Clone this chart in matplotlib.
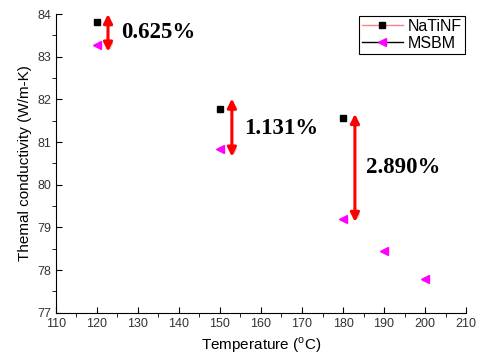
import numpy as np
import matplotlib
matplotlib.use('Agg')
import matplotlib.pyplot as plt
import matplotlib.patheffects as pe
from matplotlib.ticker import MultipleLocator
from matplotlib.lines import Line2D

# data
natinf_t = [120, 150, 180]
natinf_k = [83.82, 81.77, 81.56]
msbm_t = [120, 150, 180, 190, 200]
msbm_k = [83.28, 80.85, 79.19, 78.45, 77.79]

# difference arrows: x, y bottom, y top, label, label x, label y
arrow_x = [122.7, 152.9, 182.9]
arrow_lo = [83.12, 80.66, 79.13]
arrow_hi = [84.0, 82.02, 81.66]
pct_labels = ['0.625%', '1.131%', '2.890%']
pct_x = [125.8, 155.8, 185.6]
pct_y = [83.56, 81.33, 80.4]

plt.rcParams['font.family'] = ['Liberation Sans', 'DejaVu Sans']

fig = plt.figure(figsize=(4.78, 3.6), dpi=100)
ax = fig.add_axes([0.117, 0.131, 0.858, 0.83])

ax.plot(natinf_t, natinf_k, color='#ff8080', ls='none', marker='s', ms=5,
        mfc='black', mec='black')
ax.plot(msbm_t, msbm_k, color='black', ls='none', marker='<', ms=6,
        mfc='magenta', mec='magenta')

shadow = [pe.SimplePatchShadow(offset=(1.5, -1.5), alpha=0.2), pe.Normal()]
for x, lo, hi in zip(arrow_x, arrow_lo, arrow_hi):
    ax.annotate('', xy=(x, lo), xytext=(x, hi),
                arrowprops=dict(arrowstyle='<|-|>', color='red', lw=2.2,
                                mutation_scale=13, shrinkA=0, shrinkB=0,
                                path_effects=shadow))
for s, x, y in zip(pct_labels, pct_x, pct_y):
    ax.text(x, y, s, fontsize=16.5, fontweight='bold', family='Liberation Serif',
            va='center', ha='left')

ax.set_xlim(110, 210)
ax.set_ylim(77, 84)
ax.xaxis.set_major_locator(MultipleLocator(10))
ax.xaxis.set_minor_locator(MultipleLocator(5))
ax.yaxis.set_major_locator(MultipleLocator(1))
ax.yaxis.set_minor_locator(MultipleLocator(0.5))
ax.tick_params(which='major', direction='in', length=4, labelsize=9,
               labelcolor='#333333')
ax.tick_params(which='minor', direction='out', length=3)
ax.spines['top'].set_visible(False)
ax.spines['right'].set_visible(False)

ax.set_xlabel('Temperature ($^{\\mathregular{o}}$C)', fontsize=11)
ax.set_ylabel('Themal conductivity (W/m-K)', fontsize=11)

# legend with the line styles shown in the reference
handles = [Line2D([], [], color='#ff8080', marker='s', ms=5, mfc='black',
                  mec='black', lw=1),
           Line2D([], [], color='black', marker='<', ms=6, mfc='magenta',
                  mec='magenta', lw=1)]
leg = ax.legend(handles, ['NaTiNF', 'MSBM'], loc='upper right',
                bbox_to_anchor=(1.01, 1.01), fontsize=11.5, fancybox=False,
                edgecolor='black', framealpha=1, handlelength=2.6,
                borderpad=0.2, labelspacing=0.1, handletextpad=0.3,
                borderaxespad=0.3)
leg.get_frame().set_linewidth(0.8)

fig.savefig('out.png', dpi=100)
